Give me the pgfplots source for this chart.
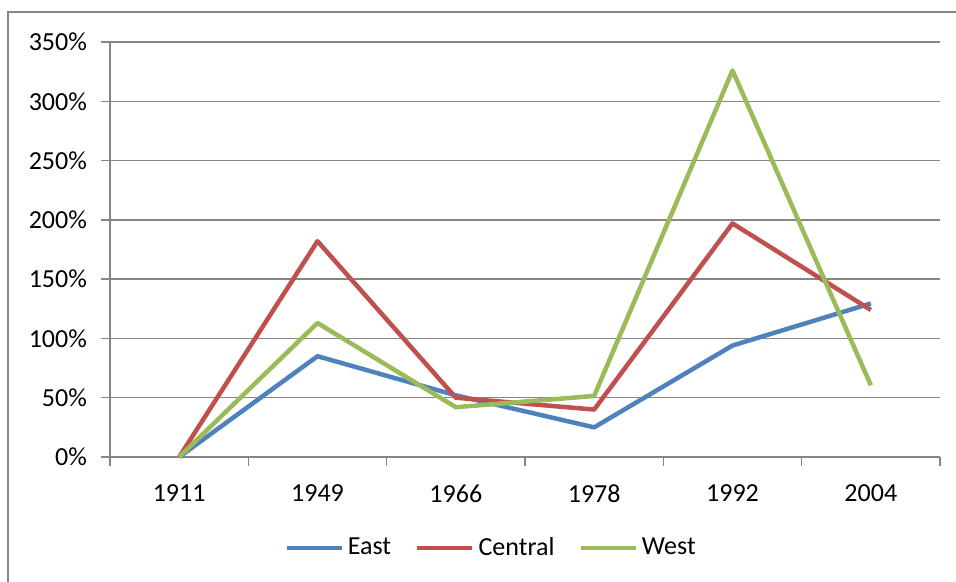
\documentclass[border=0pt]{standalone}
\usepackage{pgfplots}
\pgfplotsset{compat=1.18}
\usepackage{fontspec}
\setmainfont{Carlito}
\definecolor{exEast}{HTML}{4F81BD}
\definecolor{exCentral}{HTML}{C0504D}
\definecolor{exWest}{HTML}{9BBB59}
\definecolor{exGrid}{HTML}{868686}
\begin{document}
\fontsize{13}{15.5}\selectfont
\begin{tikzpicture}
  % page = 956x582 px, 1 px = 0.5pt, axis box at px x 110..940, y 42..457
  \path[use as bounding box] (-55pt,-62.5pt) rectangle (423pt,228.5pt);
  \draw[exGrid, line width=1pt] (-51pt,-70pt) -- (-51pt,222.5pt) -- (430pt,222.5pt);
  \begin{axis}[
      scale only axis, width=415pt, height=207.5pt,
      xmin=-0.5, xmax=5.5, ymin=0, ymax=3.5,
      axis x line=bottom, axis y line=left,
      axis line style={-, exGrid, line width=0.75pt},
      xtick={0,...,5}, xticklabels={1911,1949,1966,1978,1992,2004},
      major x tick style={draw=none},
      minor xtick={-0.5,0.5,...,5.5},
      minor x tick style={exGrid, line width=0.75pt},
      minor tick length=4.5pt,
      ytick={0,0.5,...,3.5},
      yticklabels={0\%,50\%,100\%,150\%,200\%,250\%,300\%,350\%},
      y tick style={exGrid, line width=0.75pt},
      major tick length=4.5pt, tick align=outside,
      ymajorgrids, major grid style={exGrid, line width=0.75pt},
      xticklabel style={yshift=-5pt},
      yticklabel style={xshift=-2.5pt},
      legend columns=3,
      legend style={draw=none, fill=none, at={(0.4602,-0.2193)}, anchor=center,
        /tikz/every even column/.append style={column sep=10pt},
        inner sep=0pt, nodes={inner sep=2pt}},
      legend image code/.code={\draw[#1] (0pt,0pt) -- (27.5pt,0pt);},
      every axis plot/.append style={line width=2.25pt, line join=round},
      clip=false,
    ]
    \addplot[exEast] coordinates {(0,0) (1,0.85) (2,0.52) (3,0.25) (4,0.94) (5,1.295)};
    \addplot[exCentral] coordinates {(0,0) (1,1.82) (2,0.50) (3,0.40) (4,1.97) (5,1.24)};
    \addplot[exWest] coordinates {(0,0) (1,1.13) (2,0.42) (3,0.515) (4,3.26) (5,0.605)};
    \legend{East, Central, West}
  \end{axis}
\end{tikzpicture}
\end{document}
